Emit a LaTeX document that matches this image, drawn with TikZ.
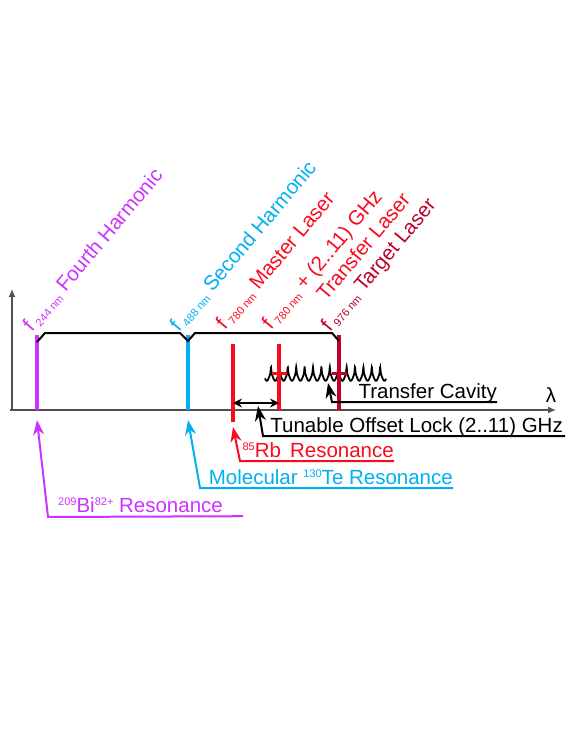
\documentclass[tikz,border=0pt]{standalone}
\usepackage{fontspec}
\setmainfont{Liberation Sans}
\usepackage{xcolor}
\usetikzlibrary{arrows.meta}
\definecolor{bipurple}{RGB}{204,51,255}
\definecolor{teblue}{RGB}{0,176,240}
\definecolor{rbred}{RGB}{250,10,30}
\definecolor{tgtred}{RGB}{192,0,40}
\definecolor{axgray}{RGB}{80,80,80}
\newcommand{\fnm}[1]{f\hspace{4pt}\raisebox{-3pt}{\fontsize{11}{11}\selectfont #1}}
\newcommand{\sups}[1]{\raisebox{7pt}{\fontsize{11}{11}\selectfont #1}}

\begin{document}
\begin{tikzpicture}[x=1pt,y=-1pt,
    lbl/.style={inner sep=0pt,font=\fontsize{20.5}{22}\selectfont},
    rot/.style={lbl,rotate=50,anchor=base west},
    under/.style={lbl,text depth=4pt},
    specline/.style={line width=4pt},
    ptr/.style={line width=2pt,-{Stealth[length=15pt,width=11pt]}}]
    \useasboundingbox (0,0) rectangle (581,752);
    \coordinate (orig) at (12,410);
    \coordinate (xend) at (556,410);
    \coordinate (yend) at (12,289);
    \draw[axgray,line width=1.5pt,-{Latex[length=8pt,width=7pt]}] (10,410) -- (xend);
    \draw[axgray,line width=1.5pt,-{Latex[length=8pt,width=7pt]}] (orig) -- (yend);
    \node[lbl] (lam) at (551,395) {λ};
    \draw[line width=1.8pt] plot[domain=265:386,samples=800]
        (\x,{381-6*pow(cos(21.4286*(\x-271)),2)-8/(1+40*pow(sin(21.4286*(\x-271)),2))});
    \coordinate (bitop) at (37,335);   \coordinate (bibot) at (37,410);
    \coordinate (tetop) at (188,335);  \coordinate (tebot) at (188,410);
    \coordinate (rbtop) at (233,344);  \coordinate (rbbot) at (233,422);
    \coordinate (trtop) at (279,344);  \coordinate (trbot) at (279,410);
    \coordinate (tgtop) at (339,335);  \coordinate (tgbot) at (339,410);
    \draw[specline,bipurple] (bitop) -- (bibot);
    \draw[specline,teblue] (tetop) -- (tebot);
    \draw[specline,rbred] (rbtop) -- (rbbot);
    \draw[specline,rbred] (trtop) -- (trbot);
    \draw[specline,tgtred] (tgtop) -- (tgbot);
    \draw[rbred,line width=3pt] (272,373) -- (287,373);
    \draw[tgtred,line width=3pt] (332,373) -- (347,373);
    \draw[line width=2pt] (37,342) -- (45,333) -- (180,333) -- (188,341) -- (195,333) -- (332,333) -- (339,341);
    \node[rot,bipurple] (bilbl) at (32,333) {\fnm{244 nm} Fourth Harmonic};
    \node[rot,teblue] (telbl) at (179,333) {\fnm{488 nm} Second Harmonic};
    \node[rot,rbred] (rblbl) at (225,331) {\fnm{780 nm} Master Laser};
    \node[rot,rbred] (trlbl) at (271,331) {\fnm{780 nm} + (2..11) GHz};
    \node[rot,rbred] (trlbl2) at (326,302) {Transfer Laser};
    \node[rot,tgtred] (tglbl) at (330,333) {\fnm{976 nm} Target Laser};
    \coordinate (ofsl) at (233,403);
    \coordinate (ofsr) at (279,403);
    \draw[line width=2pt,{Stealth[length=9pt,width=9pt]}-{Stealth[length=9pt,width=9pt]}] (ofsl) -- (ofsr);
    \node[under,anchor=base east] (tc) at (497,398) {Transfer Cavity};
    \node[under,anchor=base east] (tol) at (563,432) {Tunable Offset Lock (2..11) GHz};
    \node[under,rbred,anchor=base east] (rb) at (394,457) {\sups{85}Rb\, Resonance};
    \node[under,teblue,anchor=base east] (te) at (453,484) {Molecular \sups{130}Te Resonance};
    \node[under,bipurple,anchor=base west] (bi) at (58,512) {\sups{209}Bi\sups{82+} Resonance};
    \draw[ptr] (tc.south east) -- (332,402) -- (328,383);
    \draw[ptr] ([xshift=2pt]tol.south east) -- (263,436) -- (258,406);
    \draw[ptr,rbred] (rb.south east) -- (240,461) -- (233,427);
    \draw[ptr,teblue] (te.south east) -- (200,488) -- (188,420);
    \draw[ptr,bipurple] ([xshift=20pt]bi.south east) -- (48,517) -- (37,420);
\end{tikzpicture}
\end{document}
